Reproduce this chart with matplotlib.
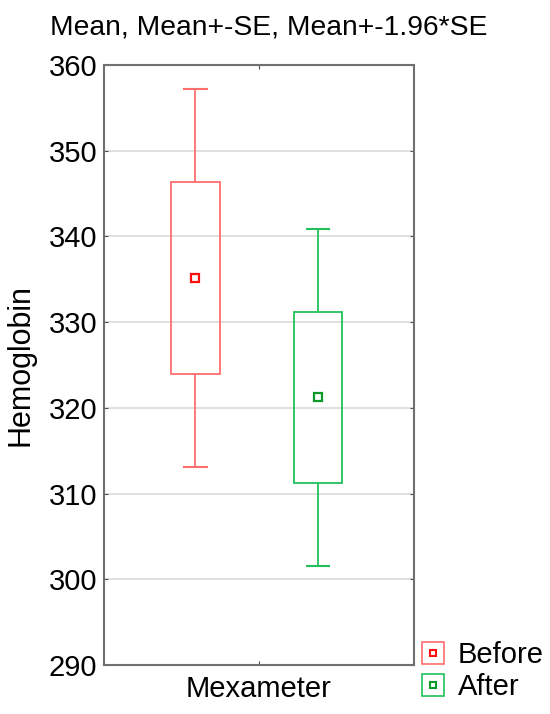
import matplotlib.pyplot as plt
from matplotlib.lines import Line2D

plt.rcParams['font.family'] = ['Liberation Sans', 'DejaVu Sans']

groups = ["Before", "After"]
means = [335.2, 321.3]
box_low = [324.0, 311.2]    # mean - SE
box_high = [346.4, 331.2]   # mean + SE
whisk_low = [313.1, 301.6]  # mean - 1.96*SE
whisk_high = [357.2, 340.9] # mean + 1.96*SE
box_colors = ["#ff6e6e", "#22c05a"]
mean_colors = ["#ff1010", "#0a9a2a"]
category = "Mexameter"

xpos = [-0.41, 0.38]
bw = 0.315
cw = 0.16

fig = plt.figure(figsize=(5.5, 7.14), dpi=100)
ax = fig.add_axes([0.189, 0.0686, 0.564, 0.8404])

for i in range(len(groups)):
    c = box_colors[i]
    ax.bar(xpos[i], box_high[i] - box_low[i], bottom=box_low[i], width=bw,
           fill=False, edgecolor=c, linewidth=1.3, zorder=3)
    ax.vlines(xpos[i], box_high[i], whisk_high[i], color=c, lw=1.3, zorder=3)
    ax.vlines(xpos[i], whisk_low[i], box_low[i], color=c, lw=1.3, zorder=3)
    ax.hlines([whisk_low[i], whisk_high[i]], xpos[i] - cw / 2, xpos[i] + cw / 2,
              color=c, lw=1.5, zorder=3)
    ax.plot(xpos[i], means[i], marker='s', ms=6, mfc='none', mec=mean_colors[i],
            mew=1.6, zorder=4)

ax.set_xlim(-1, 1)
ax.set_ylim(290, 360)
ax.set_yticks(range(290, 361, 10))
ax.set_xticks([0])
ax.set_xticklabels([category])
ax.grid(axis='y', color='#dcdcdc', lw=1.2, zorder=0)
ax.set_axisbelow(True)
for s in ax.spines.values():
    s.set_color('#707070')
    s.set_linewidth(1.5)
ax.tick_params(axis='both', direction='in', length=3, color='#505050',
               labelsize=21, left=True, right=True, top=True, bottom=True)
ax.tick_params(axis='y', pad=5)
ax.tick_params(axis='x', pad=7)
ax.set_ylabel("Hemoglobin", fontsize=22, labelpad=9)

fig.text(0.488, 0.961, "Mean, Mean+-SE, Mean+-1.96*SE", fontsize=20.3,
         ha='center', va='center')

handles = []
for i in range(len(groups)):
    outer = Line2D([], [], ls='none', marker='s', ms=16.5, mfc='none',
                   mec=box_colors[i], mew=1.2)
    inner = Line2D([], [], ls='none', marker='s', ms=5, mfc='none',
                   mec=mean_colors[i], mew=1.5)
    handles.append((outer, inner))
fig.legend(handles, groups, loc='center left', bbox_to_anchor=(0.74, 0.060),
           frameon=False, fontsize=21, handlelength=1.0, handletextpad=0.35,
           labelspacing=0.15, borderaxespad=0)

fig.savefig('out.png', dpi=100)
